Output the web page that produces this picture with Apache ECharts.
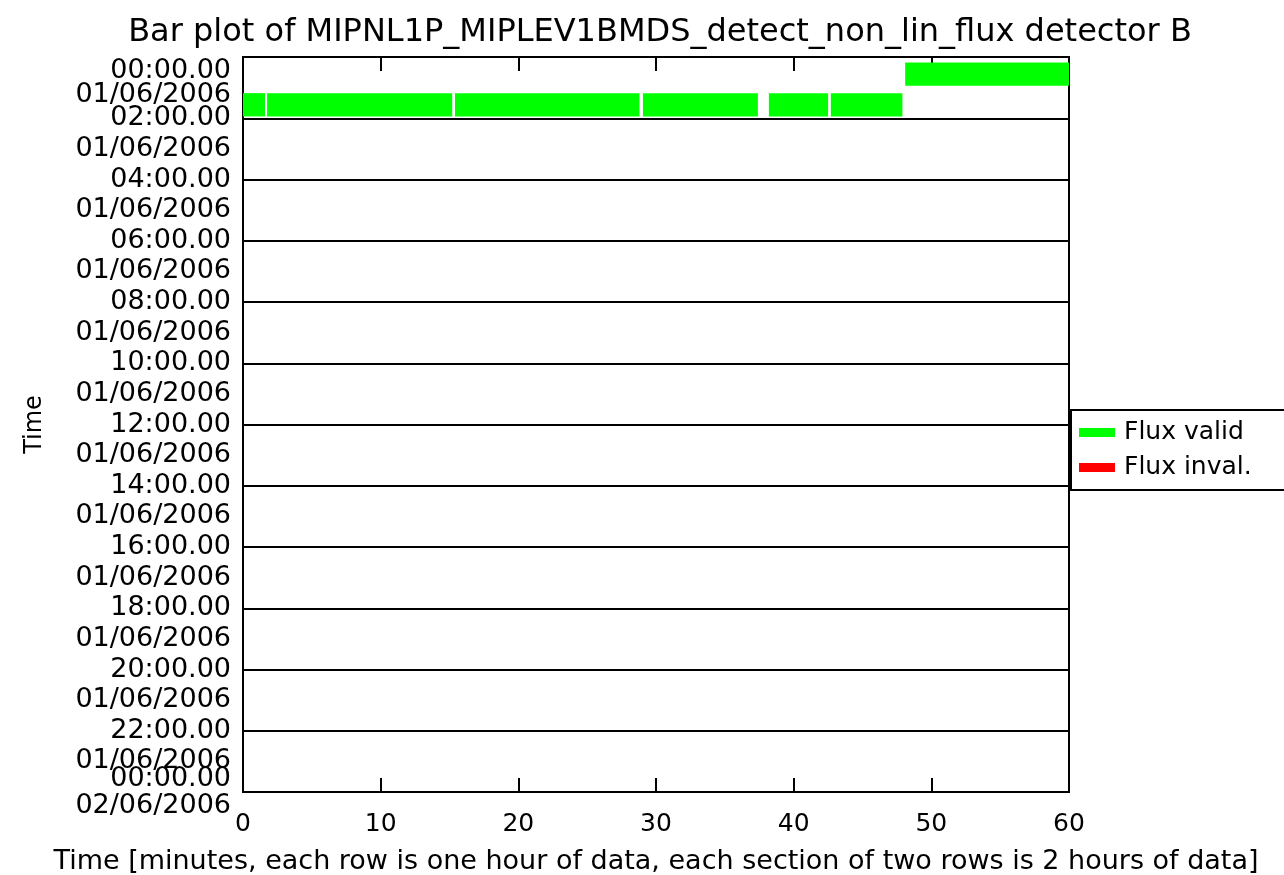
<!DOCTYPE html>
<html>
<head>
<meta charset="utf-8">
<script src="https://cdn.jsdelivr.net/npm/echarts@6/dist/echarts.min.js"></script>
<style>
html,body{margin:0;padding:0;background:#fff;}
#c{width:1284px;height:875px;}
</style>
</head>
<body>
<div id="c"></div>
<script>
// ---- data ----
const titleText = 'Bar plot of MIPNL1P_MIPLEV1BMDS_detect_non_lin_flux detector B';
const xAxisName = 'Time [minutes, each row is one hour of data, each section of two rows is 2 hours of data]';
const yAxisName = 'Time';
const seriesNames = ['Flux valid', 'Flux inval.'];
// valid segments: hour row index, start minute, end minute
const validHour  = [0,    1,   1,    1,    1,     1,    1];
const validStart = [48.1, 0,   1.75, 15.4, 29.05, 38.2, 42.7];
const validEnd   = [60,   1.6, 15.2, 28.8, 37.4,  42.5, 47.9];
// invalid segments: none
const invalHour  = [];
const invalStart = [];
const invalEnd   = [];
const timeTickLabels = ['00:00.00','02:00.00','04:00.00','06:00.00','08:00.00','10:00.00','12:00.00','14:00.00','16:00.00','18:00.00','20:00.00','22:00.00','00:00.00'];
const dateLabel = '01/06/2006';
const lastDateLabel = '02/06/2006';
const xTicks = [0,10,20,30,40,50,60];

const FONT = 'DejaVu Sans';

function buildData(h, s, e){
  return h.map((hr,i)=>[s[i], e[i], hr]);
}

function renderItem(params, api){
  const s = api.value(0), e = api.value(1), h = api.value(2);
  const p1 = api.coord([s, h + 0.18]);
  const p2 = api.coord([e, h + 0.94]);
  return {
    type: 'rect',
    shape: {x: p1[0], y: p1[1], width: p2[0]-p1[0], height: p2[1]-p1[1]},
    style: {fill: api.visual('color')}
  };
}

const chart = echarts.init(document.getElementById('c'));
chart.setOption({
  backgroundColor: '#fff',
  animation: false,
  title: {
    text: titleText, left: 655, top: 12, textAlign: 'center',
    textStyle: {fontFamily: FONT, fontSize: 32, fontWeight: 'normal', color: '#000'}
  },
  legend: {
    data: seriesNames.map(n=>({name:n, icon:'rect'})),
    orient: 'vertical', left: 1071, top: 410,
    itemWidth: 36, itemHeight: 9, itemGap: 10,
    padding: [10, 60, 10, 8],
    borderColor: '#000', borderWidth: 2,
    textStyle: {fontFamily: FONT, fontSize: 25, color: '#000', padding: [0, 0, 0, 4]}
  },
  grid: {left: 243, top: 57, width: 826, height: 735, outerBoundsMode: 'none', containLabel: false,
    show: true, borderColor: '#000', borderWidth: 2, backgroundColor: 'transparent'},
  xAxis: [{
    type: 'value', min: 0, max: 60, interval: 10, position: 'bottom',
    name: xAxisName, nameLocation: 'middle', nameGap: 56,
    nameTextStyle: {fontFamily: FONT, fontSize: 27, color: '#000'},
    axisLine: {show: true, onZero: false, lineStyle: {color: '#000', width: 2}},
    axisTick: {show: true, inside: true, length: 14, lineStyle: {color: '#000', width: 2}},
    axisLabel: {fontFamily: FONT, fontSize: 25, color: '#000', margin: 20,
      formatter: v => xTicks.indexOf(v) >= 0 ? String(v) : ''},
    splitLine: {show: false}
  },{
    type: 'value', min: 0, max: 60, interval: 10, position: 'top',
    axisLine: {show: true, onZero: false, lineStyle: {color: '#000', width: 2}},
    axisTick: {show: true, inside: true, length: 14, lineStyle: {color: '#000', width: 2}},
    axisLabel: {show: false},
    splitLine: {show: false}
  }],
  yAxis: [{
    type: 'value', min: 0, max: 24, interval: 2, inverse: true, position: 'left',
    name: yAxisName, nameLocation: 'middle', nameGap: 196,
    nameTextStyle: {fontFamily: FONT, fontSize: 24, color: '#000'},
    axisLine: {show: true, onZero: false, lineStyle: {color: '#000', width: 2}},
    axisTick: {show: false},
    splitLine: {show: true, lineStyle: {color: '#000', width: 2}},
    axisLabel: {fontFamily: FONT, fontSize: 27, color: '#000', margin: 12,
      verticalAlignMinLabel: 'top', verticalAlignMaxLabel: 'bottom',
      formatter: v => timeTickLabels[Math.round(v/2)] || ''}
  },{
    type: 'value', min: 0, max: 24, interval: 1, inverse: true, position: 'left',
    axisLine: {show: false, onZero: false}, axisTick: {show: false}, splitLine: {show: false},
    axisLabel: {fontFamily: FONT, fontSize: 27, color: '#000', margin: 12,
      verticalAlignMaxLabel: 'top',
      rich: {first: {fontFamily: FONT, fontSize: 27, color: '#000', padding: [14, 0, 0, 0]}},
      formatter: v => (v === 24 ? lastDateLabel : (v === 1 ? '{first|' + dateLabel + '}' : (v % 2 === 1 ? dateLabel : '')))}
  }],
  series: [{
    name: seriesNames[0], type: 'custom', renderItem: renderItem,
    xAxisIndex: 0, yAxisIndex: 0, itemStyle: {color: '#00ff00'},
    encode: {x: [0,1], y: 2},
    data: buildData(validHour, validStart, validEnd)
  },{
    name: seriesNames[1], type: 'custom', renderItem: renderItem,
    xAxisIndex: 0, yAxisIndex: 0, itemStyle: {color: '#ff0000'},
    encode: {x: [0,1], y: 2},
    data: buildData(invalHour, invalStart, invalEnd)
  }]
});
</script>
</body>
</html>
